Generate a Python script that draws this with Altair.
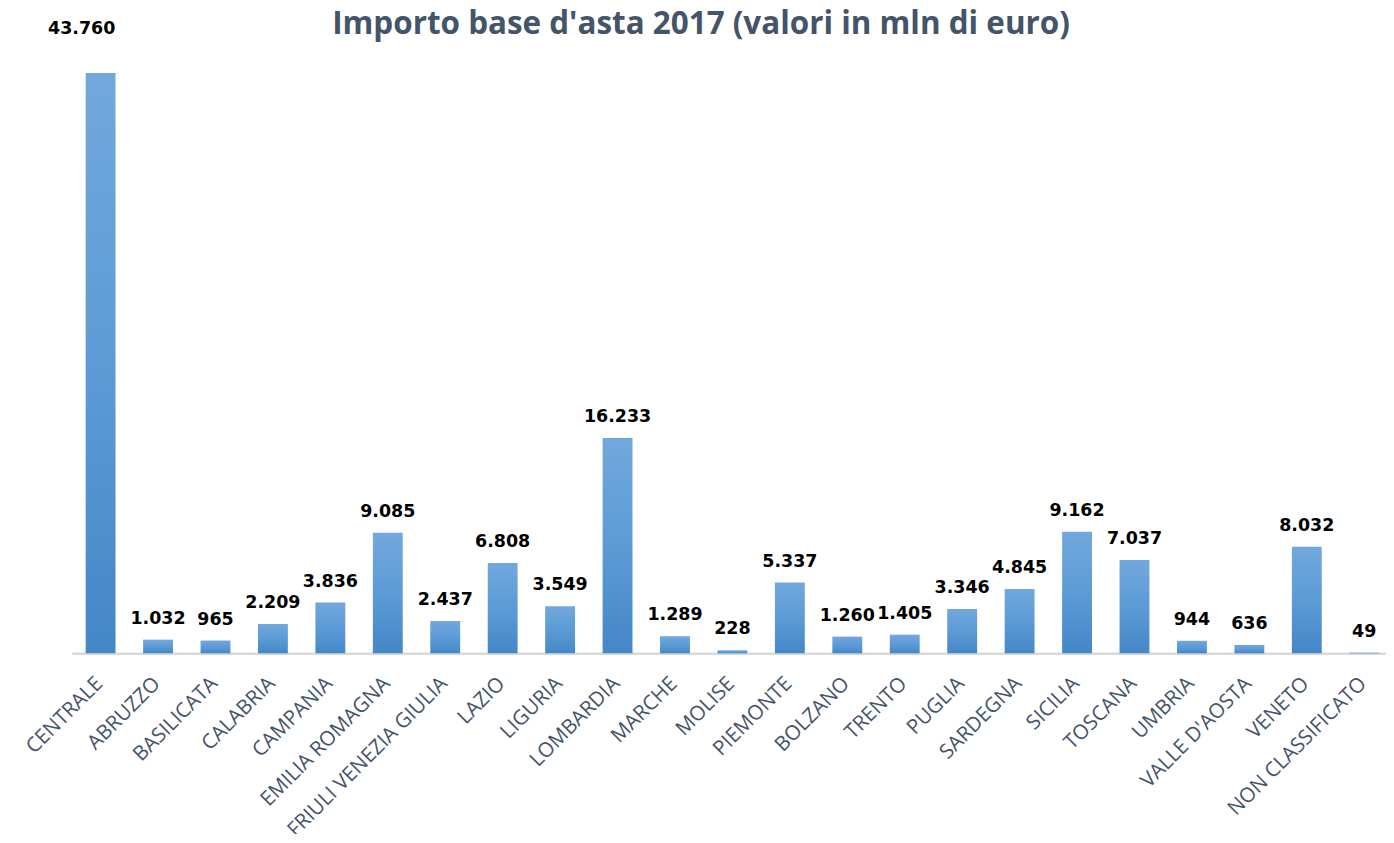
import altair as alt
import pandas as pd

regions = ["CENTRALE", "ABRUZZO", "BASILICATA", "CALABRIA", "CAMPANIA", "EMILIA ROMAGNA",
           "FRIULI VENEZIA GIULIA", "LAZIO", "LIGURIA", "LOMBARDIA", "MARCHE", "MOLISE",
           "PIEMONTE", "BOLZANO", "TRENTO", "PUGLIA", "SARDEGNA", "SICILIA", "TOSCANA",
           "UMBRIA", "VALLE D'AOSTA", "VENETO", "NON CLASSIFICATO"]
values = [43760, 1032, 965, 2209, 3836, 9085, 2437, 6808, 3549, 16233, 1289, 228,
          5337, 1260, 1405, 3346, 4845, 9162, 7037, 944, 636, 8032, 49]

df = pd.DataFrame({"regione": regions, "valore": values})
df["etichetta"] = [f"{v:,}".replace(",", ".") for v in values]

TITLE_COLOR = "#44546A"

x_enc = alt.X("regione:N", sort=regions,
              scale=alt.Scale(paddingInner=0.48, paddingOuter=0.18, align=0.67),
              axis=alt.Axis(title=None, labelAngle=-45, labelAlign="right",
                            labelBaseline="middle", labelPadding=27, labelOffset=-1,
                            labelFont="Open Sans", labelFontSize=20.5,
                            labelColor=TITLE_COLOR, ticks=False,
                            domainColor="#D9D9D9", domainWidth=2.5,
                            labelOverlap=False, labelLimit=400))
y_enc = alt.Y("valore:Q", scale=alt.Scale(domain=[0, 46166], nice=False), axis=None)

grad = alt.Gradient(gradient="linear",
                    stops=[alt.GradientStop(color="#72A8DD", offset=0),
                           alt.GradientStop(color="#5C9BD6", offset=0.5),
                           alt.GradientStop(color="#4487C7", offset=1)],
                    x1=0, x2=0, y1=0, y2=1)

base = alt.Chart(df)
bars = base.mark_bar(color=grad).encode(x=x_enc, y=y_enc)

text_style = dict(font="DejaVu Sans", fontWeight="bold", fontSize=17.5,
                  color="#000000", baseline="alphabetic", align="center")
labels = base.mark_text(dy=-16, **text_style).encode(
    x=alt.X("regione:N", sort=regions), y="valore:Q", text="etichetta:N"
).transform_filter(alt.datum.regione != "CENTRALE")
label_top = base.mark_text(dy=-39, dx=-19, **text_style).encode(
    x=alt.X("regione:N", sort=regions), y="valore:Q", text="etichetta:N"
).transform_filter(alt.datum.regione == "CENTRALE")

chart = alt.layer(bars, labels, label_top).properties(
    width=1318, height=614,
    background="white",
    title=alt.TitleParams("Importo base d'asta 2017 (valori in mln di euro)",
                          font="Open Sans", fontSize=31.5, fontWeight="bold",
                          color=TITLE_COLOR, anchor="middle", frame="group",
                          dx=-28, dy=29, offset=9),
    autosize=alt.AutoSizeParams(type="none"),
    padding={"left": 64, "top": 32, "right": 0, "bottom": 180},
).configure_view(stroke=None)

chart.save("out.html", embed_options={"renderer": "svg", "actions": False})
